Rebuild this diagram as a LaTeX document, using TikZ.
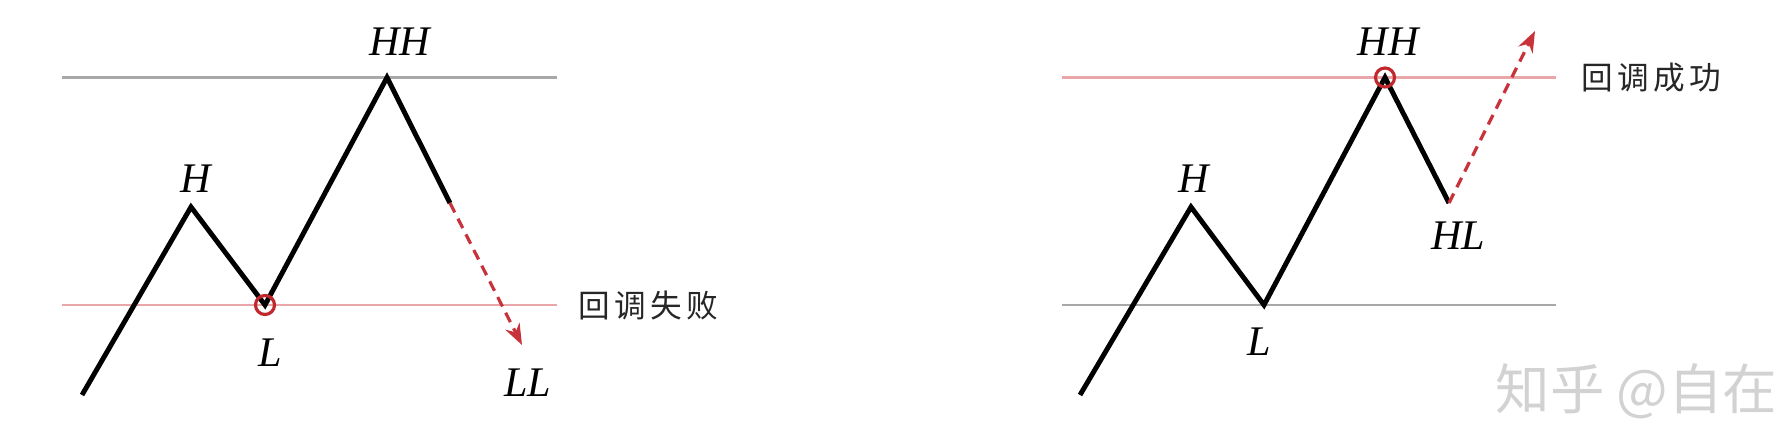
\documentclass[tikz,border=0pt]{standalone}
\usepackage{fontspec}
\newfontfamily\cjk{Noto Sans CJK SC}
\newfontfamily\cjkspaced[LetterSpace=14]{Noto Sans CJK SC}
\newfontfamily\pointfont{Liberation Serif}
\usetikzlibrary{arrows.meta}

\begin{document}
\begin{tikzpicture}[
    pointLabel/.style={font=\pointfont\itshape\fontsize{12}{14}\selectfont},
    noteLabel/.style={font=\cjkspaced\fontsize{9}{12}\selectfont, text=noteColour, anchor=west},
    priceLine/.style={line width=1.4pt, line join=miter},
    levelLine/.style={line width=0.6pt},
    breakArrow/.style={densely dashed, line width=0.9pt, draw=arrowColour, -{Stealth[length=6pt, width=4.5pt]}},
    hitRing/.style={draw=ringColour, line width=0.9pt}
]
    \definecolor{greyLevel}{HTML}{A8A8A8}
    \definecolor{redLevel}{HTML}{E8A6A8}
    \definecolor{arrowColour}{HTML}{C8323A}
    \definecolor{ringColour}{HTML}{C0282E}
    \definecolor{noteColour}{HTML}{262626}
    \definecolor{markColour}{HTML}{D2D2D2}

    % Fix the canvas
    \useasboundingbox (0,0) rectangle (17.86,4.38);

    % ---- Left panel: failed pullback ----
    \coordinate (a0) at (0.82,0.43);
    \coordinate (aH) at (1.91,2.31);
    \coordinate (aL) at (2.65,1.33);
    \coordinate (aHH) at (3.87,3.605);
    \coordinate (aEnd) at (4.50,2.35);
    \coordinate (aTip) at (5.22,0.93);

    % Level lines
    \coordinate (aTopW) at (0.62,3.605);
    \coordinate (aTopE) at (5.57,3.605);
    \coordinate (aLowW) at (0.62,1.33);
    \coordinate (aLowE) at (5.57,1.33);
    \draw[levelLine, greyLevel] (aTopW) -- (aTopE);
    \draw[levelLine, redLevel] (aLowW) -- (aLowE);

    % Price path
    \draw[priceLine] (a0) -- (aH) -- (aL) -- (aHH) -- (aEnd);
    \draw[breakArrow] (aEnd) -- (aTip);
    \draw[hitRing] (aL) circle[radius=0.095];

    % Labels
    \node[pointLabel] (labAH) at (1.96,2.59) {H};
    \node[pointLabel] (labAL) at (2.70,0.85) {L};
    \node[pointLabel] (labAHH) at (4.00,3.96) {HH};
    \node[pointLabel] (labALL) at (5.28,0.55) {LL};
    \node[noteLabel] (noteFail) at (5.66,1.33) {回调失败};

    % ---- Right panel: successful pullback ----
    \coordinate (b0) at (10.80,0.43);
    \coordinate (bH) at (11.91,2.31);
    \coordinate (bL) at (12.64,1.33);
    \coordinate (bHH) at (13.85,3.605);
    \coordinate (bHL) at (14.49,2.35);
    \coordinate (bTip) at (15.35,4.07);

    % Level lines
    \coordinate (bTopW) at (10.62,3.605);
    \coordinate (bTopE) at (15.56,3.605);
    \coordinate (bLowW) at (10.62,1.33);
    \coordinate (bLowE) at (15.56,1.33);
    \draw[levelLine, redLevel] (bTopW) -- (bTopE);
    \draw[levelLine, greyLevel] (bLowW) -- (bLowE);

    % Price path
    \draw[priceLine] (b0) -- (bH) -- (bL) -- (bHH) -- (bHL);
    \draw[breakArrow] (bHL) -- (bTip);
    \draw[hitRing] (bHH) circle[radius=0.095];

    % Labels
    \node[pointLabel] (labBH) at (11.94,2.59) {H};
    \node[pointLabel] (labBL) at (12.59,0.96) {L};
    \node[pointLabel] (labBHH) at (13.88,3.96) {HH};
    \node[pointLabel] (labBHL) at (14.58,2.02) {HL};
    \node[noteLabel] (noteWin) at (15.69,3.605) {回调成功};

    % Watermark
    \node[anchor=west, inner sep=0pt, text=markColour, font=\cjk\fontsize{15.5}{18}\selectfont] (mark) at (14.95,0.47) {知乎 @自在};
\end{tikzpicture}
\end{document}
